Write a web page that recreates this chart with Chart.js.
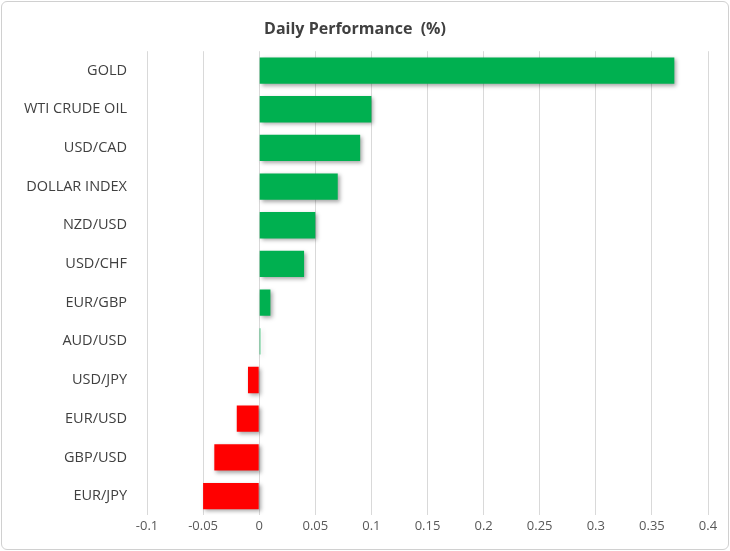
<!DOCTYPE html>
<html><head>
<script src="https://cdn.jsdelivr.net/npm/chart.js@4/dist/chart.umd.min.js"></script>
<style>
body{margin:0;background:#fff}
#box{position:absolute;left:1px;top:1px;width:726px;height:547px;border:1px solid #d0d0d0;border-radius:6px}
</style>
</head><body>
<div id="box"><canvas id="c" width="726" height="547"></canvas></div>
<script>
// data
let labels = ["GOLD","WTI CRUDE OIL","USD/CAD","DOLLAR INDEX","NZD/USD","USD/CHF","EUR/GBP","AUD/USD","USD/JPY","EUR/USD","GBP/USD","EUR/JPY"];
let values = [0.37,0.10,0.09,0.07,0.05,0.04,0.01,0.001,-0.01,-0.02,-0.04,-0.05];

let colors = values.map(v => v >= 0 ? "#00B050" : "#FF0000");

// soft shadow under the bars, like the original
const shadow = {
  id: "shadow",
  beforeDatasetsDraw(chart) {
    let ctx = chart.ctx;
    ctx.save();
    ctx.shadowColor = "rgba(0,0,0,0.35)";
    ctx.shadowBlur = 4;
    ctx.shadowOffsetX = 2;
    ctx.shadowOffsetY = 2;
  },
  afterDatasetsDraw(chart) { chart.ctx.restore(); }
};

new Chart(document.getElementById("c"), {
  type: "bar",
  data: { labels: labels, datasets: [{ data: values, backgroundColor: colors, barPercentage: 0.68, categoryPercentage: 1 }] },
  options: {
    indexAxis: "y",
    responsive: false,
    animation: false,
    layout: { padding: { top: 14, right: 20, left: 0, bottom: 12 } },
    plugins: {
      legend: { display: false },
      title: { display: true, text: "Daily Performance  (%)", color: "#404040",
        font: { family: "Open Sans", size: 16, weight: "bold" }, padding: { top: 4, bottom: 12 } }
    },
    scales: {
      x: { min: -0.1, max: 0.4, ticks: { stepSize: 0.05, color: "#595959", font: { family: "Open Sans", size: 13 },
             callback: v => Math.round(v * 100) / 100 },
           grid: { color: "#d9d9d9", drawTicks: false }, border: { display: false } },
      y: { afterFit: s => { s.width = 145; },
           ticks: { color: "#404040", padding: 12, font: { family: "Open Sans", size: 14.5 } },
           grid: { display: false }, border: { display: false } }
    }
  },
  plugins: [shadow]
});
</script>
</body></html>
